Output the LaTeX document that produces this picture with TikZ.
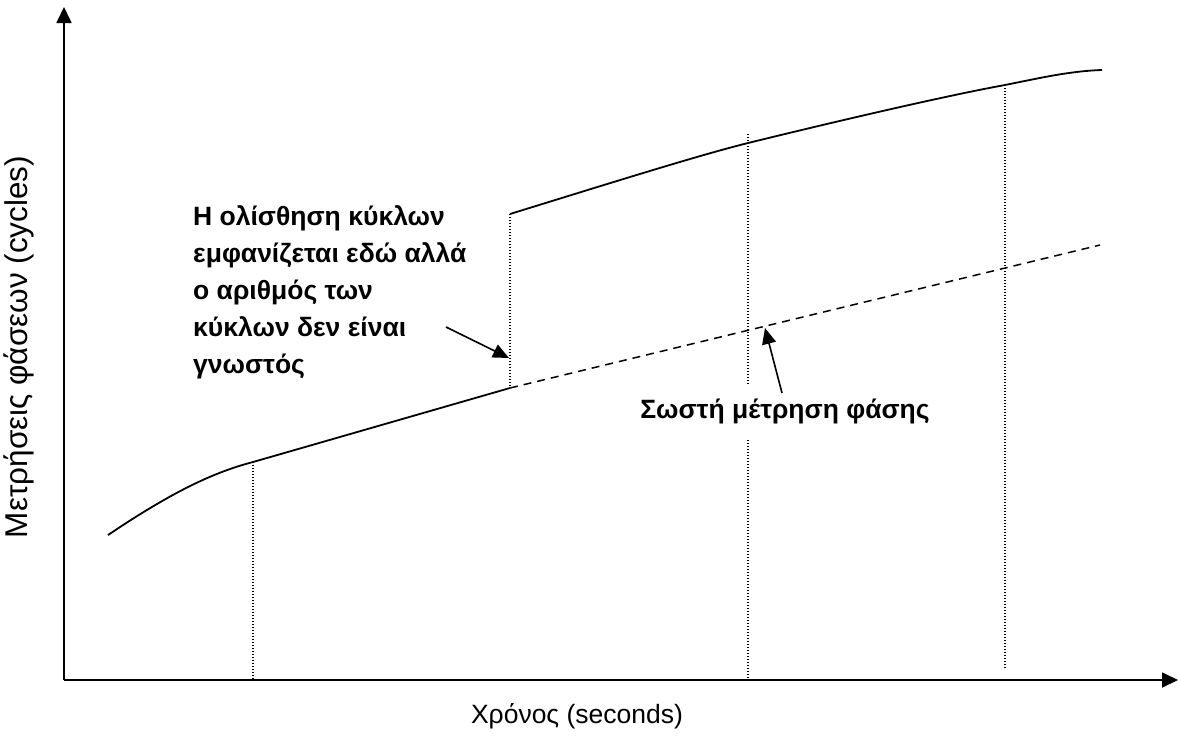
\documentclass[tikz,border=0pt]{standalone}
\usepackage{fontspec}
\setmainfont{Liberation Sans}
\usetikzlibrary{arrows.meta}
\tikzset{
  axisline/.style={line width=1.8pt,-{Triangle[length=16pt,width=15pt]}},
  curveline/.style={line width=1.8pt},
  dotline/.style={line width=1.3pt,dash pattern=on 1.3pt off 1.7pt},
  dashline/.style={line width=1.5pt,dash pattern=on 8pt off 6pt},
  pointer/.style={line width=1.6pt,-{Triangle[length=16pt,width=14pt]}},
  lbl/.style={font=\fontsize{26.5}{30}\selectfont,inner sep=0pt},
  note/.style={font=\fontsize{26.5}{37.2}\selectfont\bfseries,inner sep=0pt,align=left},
}
\begin{document}
\begin{tikzpicture}[x=1pt,y=-1pt]
\useasboundingbox (0,0) rectangle (1178,745);
% axes
\coordinate (O) at (64,680);
\coordinate (Ytop) at (64,7);
\coordinate (Xend) at (1178,680);
\draw[axisline] (O) -- (Ytop);
\draw[axisline] (O) -- (Xend);
% curve points
\coordinate (c0) at (108,535);
\coordinate (c1) at (253,462);
\coordinate (c2) at (510,388);
\coordinate (u0) at (510,214);
\coordinate (u1) at (748,143);
\coordinate (u2) at (1005,85);
\coordinate (u3) at (1102,70);
\coordinate (d1) at (1100,245);
% dotted verticals
\coordinate (b1) at (253,680);
\coordinate (b3) at (748,680);
\coordinate (t3) at (748,134);
\coordinate (b4) at (1005,668);
\draw[dotline] (c1) -- (b1);
\draw[dotline] (u0) -- (c2);
\draw[dotline] (t3) -- (b3);
\draw[dotline] (u2) -- (b4);
% curves
\draw[curveline] (c0) .. controls (175,490) and (215,472) .. (c1)
  .. controls (340,437) and (430,411) .. (c2);
\draw[curveline] (u0) .. controls (620,180) and (700,155) .. (u1)
  .. controls (850,118) and (950,95) .. (u2)
  .. controls (1040,78) and (1070,71) .. (u3);
\draw[dashline] (c2) -- (d1);
% labels
\node[lbl] (xl) at (577,716) {Χρόνος (seconds)};
\node[lbl,font=\fontsize{31.5}{34}\selectfont,rotate=90] (yl) at (19,347) {Μετρήσεις φάσεων (cycles)};
\node[note,anchor=north west] (n1) at (193,205) {Η ολίσθηση κύκλων\\εμφανίζεται εδώ αλλά\\ο αριθμός των\\κύκλων δεν είναι\\γνωστός};
\node[note,fill=white,inner ysep=14pt,inner xsep=2pt] (n2) at (785,411) {Σωστή μέτρηση φάσης};
% pointers
\coordinate (p1s) at (446,327);
\coordinate (p1e) at (509,358);
\coordinate (p2s) at (782,393);
\coordinate (p2e) at (765,328);
\draw[pointer] (p1s) -- (p1e);
\draw[pointer] (p2s) -- (p2e);
\end{tikzpicture}
\end{document}
